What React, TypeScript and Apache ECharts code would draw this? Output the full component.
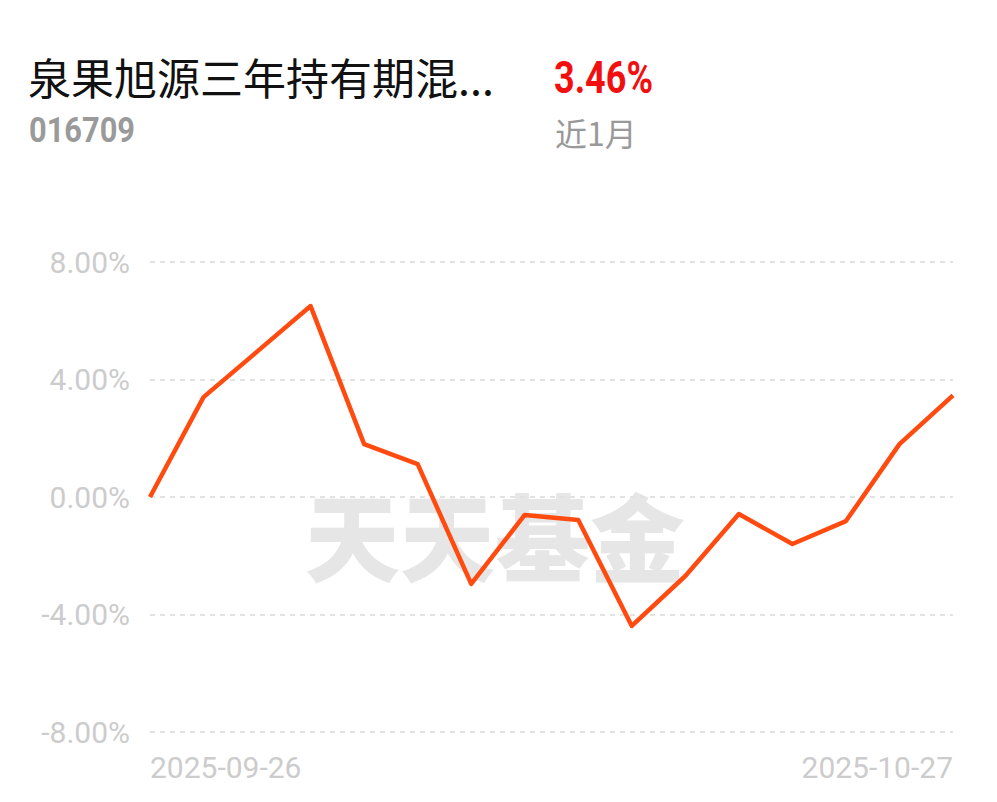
import React, { useEffect, useRef } from "react";
import * as echarts from "echarts";

const dates = [
  "2025-09-26", "2025-09-29", "2025-09-30", "2025-10-09", "2025-10-10", "2025-10-13",
  "2025-10-14", "2025-10-15", "2025-10-16", "2025-10-17", "2025-10-20", "2025-10-21",
  "2025-10-22", "2025-10-23", "2025-10-24", "2025-10-27",
];
const returns = [0, 3.4, 4.95, 6.5, 1.8, 1.12, -2.96, -0.61, -0.78, -4.39, -2.69, -0.58, -1.6, -0.82, 1.8, 3.46];
const fundName = "泉果旭源三年持有期混...";
const fundCode = "016709";
const periodReturn = "3.46%";
const periodLabel = "近1月";
const watermark = "天天基金";

export default function App() {
  const ref = useRef<HTMLDivElement>(null);
  useEffect(() => {
    document.body.style.margin = "0";
    const chart = echarts.init(ref.current!, null, { renderer: "svg" });
    const n = dates.length;
    chart.setOption({
      animation: false,
      backgroundColor: "#ffffff",
      textStyle: { fontFamily: "Roboto, 'Noto Sans CJK SC', sans-serif" },
      grid: { left: 150, right: 44, top: 262, bottom: 70, containLabel: false },
      graphic: [
        {
          type: "text", x: 28, y: 54, z: 10,
          style: { text: fundName, fontSize: 43, fill: "#111", fontFamily: "'Noto Sans CJK SC', sans-serif" },
        },
        {
          type: "text", x: 29, y: 112, z: 10, scaleX: 0.88,
          style: { text: fundCode, fontSize: 35, fontWeight: "bold", fill: "#9a9a9a", fontFamily: "Roboto, sans-serif" },
        },
        {
          type: "text", x: 554, y: 55, z: 10, scaleX: 0.8,
          style: { text: periodReturn, fontSize: 45, fontWeight: "bold", fill: "#f20f0f", fontFamily: "Roboto, sans-serif" },
        },
        {
          type: "text", x: 555, y: 116, z: 10,
          style: { text: periodLabel, fontSize: 32, fill: "#999999", fontFamily: "'Noto Sans CJK SC', sans-serif" },
        },
        {
          type: "text", x: 305, y: 486, z: 0,
          style: { text: watermark, fontSize: 95, fontWeight: 900, fill: "#e6e6e6", fontFamily: "'Noto Sans CJK SC', sans-serif" },
        },
      ],
      xAxis: {
        type: "category",
        data: dates,
        boundaryGap: false,
        axisLine: { show: false },
        axisTick: { show: false },
        axisLabel: {
          interval: (i: number) => i === 0 || i === n - 1,
          showMinLabel: true,
          showMaxLabel: true,
          alignMinLabel: "left",
          alignMaxLabel: "right",
          color: "#cccccc",
          fontSize: 30,
          margin: 20,
          fontFamily: "Roboto, sans-serif",
        },
        splitLine: { show: false },
      },
      yAxis: {
        type: "value",
        min: -8,
        max: 8,
        interval: 4,
        axisLine: { show: false },
        axisTick: { show: false },
        axisLabel: {
          formatter: (v: number) => v.toFixed(2) + "%",
          color: "#cccccc",
          fontSize: 30,
          margin: 20,
          fontFamily: "Roboto, sans-serif",
        },
        splitLine: { lineStyle: { color: "#e2e2e2", type: [5, 5], width: 2 } },
      },
      series: [
        {
          type: "line",
          data: returns,
          showSymbol: false,
          symbol: "none",
          z: 5,
          lineStyle: { color: "#ff4b0f", width: 4.5, join: "round" },
        },
      ],
    });
    return () => chart.dispose();
  }, []);
  return <div ref={ref} style={{ width: 997, height: 802 }} />;
}
